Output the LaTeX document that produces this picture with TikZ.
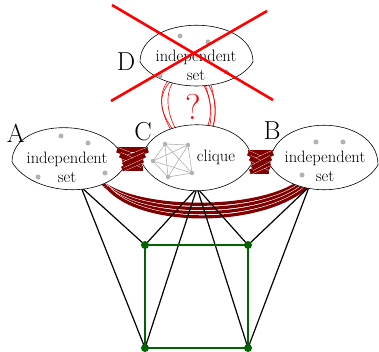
\documentclass[tikz,border=0pt]{standalone}
\usepackage{fontspec}
\definecolor{dred}{RGB}{128,0,0}
\definecolor{vgreen}{RGB}{0,100,0}
\begin{document}
\begin{tikzpicture}[x=1pt,y=-1pt,
  blob/.style={draw=black, line width=0.6pt, fill=white},
  gdot/.style={circle, fill=black!30, inner sep=0pt, minimum size=5pt},
  kdot/.style={circle, fill=black!30, inner sep=0pt, minimum size=4.5pt},
  kedge/.style={draw=black!30, line width=0.6pt},
  gvert/.style={circle, fill=vgreen, inner sep=0pt, minimum size=8pt},
  gedge/.style={draw=vgreen, line width=1.5pt},
  bedge/.style={draw=black, line width=1.2pt},
  bundle/.style={draw=white, line width=0.55pt, double=dred, double distance=3.2pt},
  sbundle/.style={draw=white, line width=0.35pt, double=dred, double distance=5pt},
  qline/.style={draw=red, line width=0.6pt},
  cross/.style={draw=red, line width=2.6pt},
  lbl/.style={font=\fontsize{26}{30}\selectfont, inner sep=0pt},
  txt/.style={font=\fontsize{16.5}{19}\selectfont, align=center, inner sep=0pt},
]
\useasboundingbox (0,0) rectangle (379,352);

% named points
\coordinate (Abot) at (81,187);
\coordinate (Cbot) at (197,188);
\coordinate (Bbot) at (309,187);
\coordinate (g1) at (145,245);
\coordinate (g2) at (248,245);
\coordinate (g3) at (145,348);
\coordinate (g4) at (248,348);

% red curves between D and C
\foreach \i/\xa/\xb/\s in {1/167/172/-10,2/170/175/-14,3/173/177/-9}{
  \coordinate (dl\i) at (\xa,82);
  \coordinate (cl\i) at (\xb,132);
  \draw[qline] (dl\i) .. controls ([xshift=\s pt]\xa,97) and ([xshift=\s pt]\xb,115) .. (cl\i);
}
\foreach \i/\xa/\xb/\s in {1/202/205/9,2/204/208/6,3/207/210/9,4/210/212/5}{
  \coordinate (dr\i) at (\xa,82);
  \coordinate (cr\i) at (\xb,132);
  \draw[qline] (dr\i) .. controls ([xshift=\s pt]\xa,97) and ([xshift=\s pt]\xb,115) .. (cr\i);
}

% bottom bundle A--B
\foreach \i/\ya/\yb/\yc in {0/182/180/212,1/184/182/217,2/186/184/222,3/187/186/227}{
  \coordinate (ab\i) at ({101+2*\i},\ya);
  \coordinate (bb\i) at ({302+2*\i},\yb);
  \draw[bundle] (ab\i) .. controls (140,\yc) and (262,\yc) .. (bb\i);
}

% black edges
\draw[bedge] (Abot) -- (g1);
\draw[bedge] (Abot) -- (g3);
\draw[bedge] (Cbot) -- (g1);
\draw[bedge] (Cbot) -- (g2);
\draw[bedge] (Cbot) -- (g3);
\draw[bedge] (Cbot) -- (g4);
\draw[bedge] (Bbot) -- (g2);
\draw[bedge] (Bbot) -- (g4);

% green square
\draw[gedge] (g1) -- (g2) -- (g4) -- (g3) -- cycle;
\foreach \g in {g1,g2,g3,g4} \node[gvert] at (\g) {};

% blobs
\draw[blob] (12,162) .. controls (12,113) and (124,118) .. (124,167) .. controls (104,200) and (32,196) .. cycle;
\draw[blob] (142,163) .. controls (142,112) and (252,112) .. (252,163) .. controls (232,200) and (162,200) .. cycle;
\draw[blob] (270,165) .. controls (270,112) and (378,112) .. (378,165) .. controls (358,198) and (290,198) .. cycle;
\draw[blob] (140,62) .. controls (140,13) and (253,13) .. (253,62) .. controls (233,94) and (160,94) .. cycle;

% grey dots
\foreach \p in {(61,136),(88,143),(38,177),(105,173),(316,142),(343,142),(302,175),(180,36),(208,42),(160,76),(226,72)}
  \node[gdot] at \p {};

% clique K5
\coordinate (k1) at (165,144);
\coordinate (k2) at (188,145);
\coordinate (k3) at (153,161);
\coordinate (k4) at (168,177);
\coordinate (k5) at (192,173);
\foreach \u/\v in {k1/k2,k1/k3,k1/k4,k1/k5,k2/k3,k2/k4,k2/k5,k3/k4,k3/k5,k4/k5}
  \draw[kedge] (\u) -- (\v);
\foreach \k in {k1,k2,k3,k4,k5} \node[kdot] at (\k) {};

% texts
\node[txt] (tA) at (67,167) {independent\\set};
\node[txt] (tC) at (216,157) {clique};
\node[txt] (tB) at (325,166) {independent\\set};
\node[txt] (tD) at (196,65) {independent\\set};

% side bundles A--C
\coordinate (a1) at (117,150); \coordinate (a2) at (120,155); \coordinate (a3) at (122,160);
\coordinate (a4) at (123,165); \coordinate (a5) at (122,169);
\coordinate (c1) at (148,150); \coordinate (c2) at (145,155); \coordinate (c3) at (143,160);
\coordinate (c4) at (142,165); \coordinate (c5) at (143,169);
\foreach \u/\v in {a1/c1,a5/c5,a3/c3,a1/c3,a3/c1,a2/c4,a5/c3,a4/c2}
  \draw[sbundle] (\u) -- (\v);
% side bundles C--B
\coordinate (d1) at (248,153); \coordinate (d2) at (250,158); \coordinate (d3) at (251,163);
\coordinate (d4) at (252,168); \coordinate (d5) at (250,172);
\coordinate (b1) at (273,153); \coordinate (b2) at (271,158); \coordinate (b3) at (270,163);
\coordinate (b4) at (270,168); \coordinate (b5) at (269,172);
\foreach \u/\v in {d1/b1,d5/b5,d3/b3,d1/b3,d3/b1,d2/b4,d5/b3,d4/b2}
  \draw[sbundle] (\u) -- (\v);

% labels
\node[lbl] (lA) at (16,133) {A};
\node[lbl] (lC) at (143,132) {C};
\node[lbl] (lB) at (272,131) {B};
\node[lbl] (lD) at (126,62) {D};
\node[font=\fontsize{36}{42}\selectfont, text=red, inner sep=0pt] (q) at (193,107) {?};

% red cross
\coordinate (x1) at (112,5); \coordinate (x2) at (273,100);
\coordinate (x3) at (267,11); \coordinate (x4) at (111,101);
\draw[cross] (x1) -- (x2);
\draw[cross] (x3) -- (x4);
\end{tikzpicture}
\end{document}
